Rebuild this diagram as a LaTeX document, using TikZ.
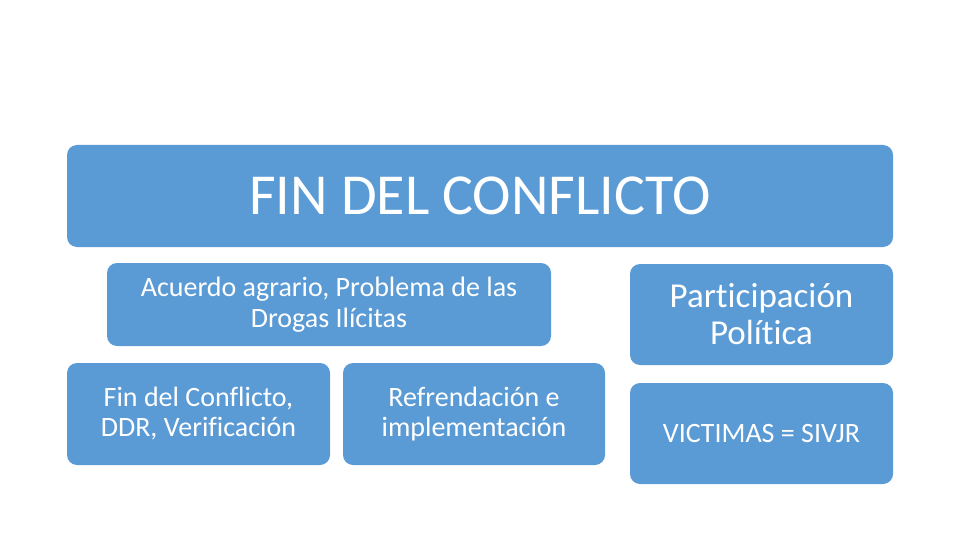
\documentclass[tikz,border=0pt]{standalone}
\usepackage{fontspec}
\setmainfont[Ligatures=NoCommon]{Carlito}
\definecolor{boxblue}{HTML}{5B9BD5}

\begin{document}
\begin{tikzpicture}[
    x=1pt, y=-1pt,
    block/.style={rectangle, fill=boxblue, rounded corners=10pt, text=white, align=center, inner sep=0pt, outer sep=0pt},
    bigblock/.style={block, minimum width=826pt, minimum height=102pt, font=\fontsize{58}{66}\selectfont},
    wideblock/.style={block, minimum width=444pt, minimum height=83pt, font=\fontsize{28}{31}\selectfont},
    sideblock/.style={block, minimum width=263pt, minimum height=101pt}
]
    \useasboundingbox (0,0) rectangle (960,540);
    % Header
    \node[bigblock] (fin) at (480,196) {FIN DEL CONFLICTO};
    % Second row
    \node[wideblock] (agrario) at (329,304.5) {Acuerdo agrario, Problema de las\\Drogas Ilícitas};
    \node[sideblock, font=\fontsize{35}{37}\selectfont] (politica) at (761.5,314.5) {Participación\\Política};
    % Third row
    \node[sideblock, minimum height=102pt, font=\fontsize{28}{30}\selectfont] (ddr) at (198.5,414) {Fin del Conflicto,\\DDR, Verificación};
    \node[sideblock, minimum width=262pt, minimum height=102pt, font=\fontsize{28}{30}\selectfont] (refrendacion) at (474,414) {Refrendación e\\implementación};
    \node[sideblock, font=\fontsize{28}{34}\selectfont] (victimas) at (761.5,433.5) {VICTIMAS = SIVJR};
\end{tikzpicture}
\end{document}
